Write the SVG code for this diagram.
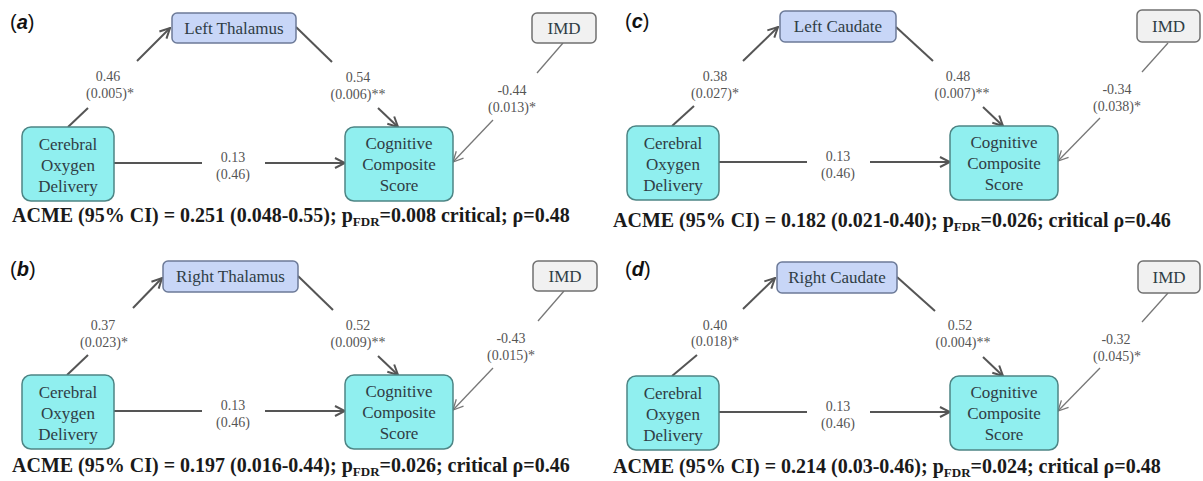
<svg xmlns="http://www.w3.org/2000/svg" width="1203" height="481" viewBox="0 0 1203 481">
<style>
.lab{font-family:"Liberation Sans",Arial,sans-serif;font-size:20px;fill:#111}
.pl{font-weight:bold;font-style:italic}
.med rect{fill:#c8d6f7;stroke:#6c7a98;stroke-width:1.5}
.var rect{fill:#90efef;stroke:#4d8585;stroke-width:1.5}
.imd rect{fill:#f1f1f1;stroke:#707070;stroke-width:1.5}
.nt{font-family:"Liberation Serif","Times New Roman",serif;font-size:17px;fill:#2f3d45;text-anchor:middle}
.el{font-family:"Liberation Serif","Times New Roman",serif;font-size:14px;fill:#555;text-anchor:middle}
.acme{font-family:"Liberation Serif","Times New Roman",serif;font-size:20px;font-weight:bold;fill:#1a1a1a}
.sub{font-size:13px}
.c{stroke:#555;stroke-width:2;fill:none}
.t{stroke:#777;stroke-width:1.3;fill:none}
.ca{marker-end:url(#ah)}
.ta{marker-end:url(#ah2)}
</style>
<defs>
<marker id="ah" markerUnits="userSpaceOnUse" viewBox="0 0 12 12" markerWidth="12" markerHeight="12" refX="11" refY="6" orient="auto"><path d="M1,1 L11,6 L1,11" fill="none" stroke="#555" stroke-width="2"/></marker>
<marker id="ah2" markerUnits="userSpaceOnUse" viewBox="0 0 12 12" markerWidth="12" markerHeight="12" refX="11" refY="6" orient="auto"><path d="M1,1 L11,6 L1,11" fill="none" stroke="#777" stroke-width="1.3"/></marker>
</defs>
<rect x="0" y="0" width="1203" height="481" fill="#fff"/>

<!-- Panel a -->
<g id="panel-a">
<text class="lab" x="10" y="29">(<tspan class="pl">a</tspan>)</text>
<g id="a-connectors">
<line class="c" x1="68" y1="127" x2="88" y2="108"/><line class="c ca" x1="137" y1="61" x2="170" y2="28"/>
<line class="c" x1="296" y1="27" x2="332" y2="62"/><line class="c ca" x1="378" y1="108" x2="398" y2="127"/>
<line class="c" x1="114" y1="163" x2="202" y2="163"/><line class="c ca" x1="265" y1="163" x2="345" y2="163"/>
<line class="t" x1="563" y1="43" x2="537" y2="73"/><line class="t ta" x1="493" y1="120" x2="453" y2="162"/>
<text class="el" x="108" y="81">0.46</text><text class="el" x="110" y="98">(0.005)*</text>
<text class="el" x="358" y="82">0.54</text><text class="el" x="358" y="99">(0.006)**</text>
<text class="el" x="233" y="162">0.13</text><text class="el" x="233" y="179">(0.46)</text>
<text class="el" x="512" y="95">-0.44</text><text class="el" x="512" y="112">(0.013)*</text>
</g>
<g id="a-mediator" class="med"><rect x="172" y="13" width="124" height="30" rx="5"/><text class="nt" x="234" y="34">Left Thalamus</text></g>
<g id="a-imd" class="imd"><rect x="532" y="13" width="64" height="30" rx="5"/><text class="nt" x="564" y="34">IMD</text></g>
<g id="a-cod" class="var"><rect x="22" y="127" width="92" height="74" rx="9"/><text class="nt"><tspan x="68" y="150">Cerebral</tspan><tspan x="68" y="171">Oxygen</tspan><tspan x="68" y="192">Delivery</tspan></text></g>
<g id="a-ccs" class="var"><rect x="345" y="127" width="108" height="74" rx="9"/><text class="nt"><tspan x="399" y="149">Cognitive</tspan><tspan x="399" y="170">Composite</tspan><tspan x="399" y="191">Score</tspan></text></g>
<text class="acme" x="12" y="222">ACME (95% CI) = 0.251 (0.048-0.55); p<tspan class="sub" dy="4">FDR</tspan><tspan dy="-4">=0.008 critical; ρ=0.48</tspan></text>
</g>

<!-- Panel c -->
<g id="panel-c" transform="translate(605,-1)">
<text class="lab" x="20" y="29">(<tspan class="pl">c</tspan>)</text>
<g id="c-connectors">
<line class="c" x1="67" y1="127" x2="89" y2="107"/><line class="c ca" x1="138" y1="62" x2="173" y2="28"/>
<line class="c" x1="291" y1="28" x2="328" y2="62"/><line class="c ca" x1="378" y1="108" x2="398" y2="127"/>
<line class="c" x1="114" y1="163" x2="202" y2="163"/><line class="c ca" x1="265" y1="163" x2="345" y2="163"/>
<line class="t" x1="563" y1="44" x2="537" y2="73"/><line class="t ta" x1="495" y1="119" x2="453" y2="162"/>
<text class="el" x="110" y="82">0.38</text><text class="el" x="110" y="99">(0.027)*</text>
<text class="el" x="353" y="82">0.48</text><text class="el" x="357" y="99">(0.007)**</text>
<text class="el" x="233" y="162">0.13</text><text class="el" x="233" y="179">(0.46)</text>
<text class="el" x="512" y="95">-0.34</text><text class="el" x="512" y="112">(0.038)*</text>
</g>
<g id="c-mediator" class="med"><rect x="175" y="12" width="116" height="31" rx="5"/><text class="nt" x="233" y="33">Left Caudate</text></g>
<g id="c-imd" class="imd"><rect x="532" y="11" width="63" height="32" rx="5"/><text class="nt" x="563.5" y="33">IMD</text></g>
<g id="c-cod" class="var"><rect x="22" y="127" width="92" height="74" rx="9"/><text class="nt"><tspan x="68" y="150">Cerebral</tspan><tspan x="68" y="171">Oxygen</tspan><tspan x="68" y="192">Delivery</tspan></text></g>
<g id="c-ccs" class="var"><rect x="345" y="127" width="108" height="74" rx="9"/><text class="nt"><tspan x="399" y="149">Cognitive</tspan><tspan x="399" y="170">Composite</tspan><tspan x="399" y="191">Score</tspan></text></g>
<text class="acme" x="8" y="228">ACME (95% CI) = 0.182 (0.021-0.40); p<tspan class="sub" dy="4">FDR</tspan><tspan dy="-4">=0.026; critical ρ=0.46</tspan></text>
</g>

<!-- Panel b -->
<g id="panel-b" transform="translate(0,248)">
<text class="lab" x="10" y="28">(<tspan class="pl">b</tspan>)</text>
<g id="b-connectors">
<line class="c" x1="67" y1="127" x2="88" y2="107"/><line class="c ca" x1="133" y1="60" x2="162" y2="30"/>
<line class="c" x1="298" y1="28" x2="333" y2="62"/><line class="c ca" x1="378" y1="108" x2="398" y2="127"/>
<line class="c" x1="114" y1="163" x2="202" y2="163"/><line class="c ca" x1="265" y1="163" x2="345" y2="163"/>
<line class="t" x1="564" y1="43" x2="538" y2="73"/><line class="t ta" x1="493" y1="120" x2="453" y2="162"/>
<text class="el" x="103" y="82">0.37</text><text class="el" x="104" y="99">(0.023)*</text>
<text class="el" x="358" y="82">0.52</text><text class="el" x="358" y="99">(0.009)**</text>
<text class="el" x="233" y="162">0.13</text><text class="el" x="233" y="179">(0.46)</text>
<text class="el" x="511" y="95">-0.43</text><text class="el" x="511" y="112">(0.015)*</text>
</g>
<g id="b-mediator" class="med"><rect x="163" y="13" width="135" height="31" rx="5"/><text class="nt" x="230.5" y="34">Right Thalamus</text></g>
<g id="b-imd" class="imd"><rect x="533" y="13" width="64" height="30" rx="5"/><text class="nt" x="565" y="34">IMD</text></g>
<g id="b-cod" class="var"><rect x="22" y="127" width="92" height="74" rx="9"/><text class="nt"><tspan x="68" y="150">Cerebral</tspan><tspan x="68" y="171">Oxygen</tspan><tspan x="68" y="192">Delivery</tspan></text></g>
<g id="b-ccs" class="var"><rect x="345" y="127" width="108" height="74" rx="9"/><text class="nt"><tspan x="399" y="149">Cognitive</tspan><tspan x="399" y="170">Composite</tspan><tspan x="399" y="191">Score</tspan></text></g>
<text class="acme" x="12" y="224">ACME (95% CI) = 0.197 (0.016-0.44); p<tspan class="sub" dy="4">FDR</tspan><tspan dy="-4">=0.026; critical ρ=0.46</tspan></text>
</g>

<!-- Panel d -->
<g id="panel-d" transform="translate(605,249)">
<text class="lab" x="20" y="27">(<tspan class="pl">d</tspan>)</text>
<g id="d-connectors">
<line class="c" x1="67" y1="127" x2="92" y2="106"/><line class="c ca" x1="138" y1="60" x2="170" y2="29"/>
<line class="c" x1="292" y1="28" x2="330" y2="62"/><line class="c ca" x1="378" y1="108" x2="398" y2="127"/>
<line class="c" x1="114" y1="163" x2="202" y2="163"/><line class="c ca" x1="265" y1="163" x2="345" y2="163"/>
<line class="t" x1="563" y1="44" x2="537" y2="73"/><line class="t ta" x1="495" y1="119" x2="453" y2="162"/>
<text class="el" x="110" y="81">0.40</text><text class="el" x="110" y="97">(0.018)*</text>
<text class="el" x="355" y="81">0.52</text><text class="el" x="358" y="98">(0.004)**</text>
<text class="el" x="233" y="162">0.13</text><text class="el" x="233" y="179">(0.46)</text>
<text class="el" x="511" y="95">-0.32</text><text class="el" x="512" y="112">(0.045)*</text>
</g>
<g id="d-mediator" class="med"><rect x="172" y="13" width="120" height="31" rx="5"/><text class="nt" x="232" y="34">Right Caudate</text></g>
<g id="d-imd" class="imd"><rect x="533" y="12" width="62" height="32" rx="5"/><text class="nt" x="564" y="34">IMD</text></g>
<g id="d-cod" class="var"><rect x="22" y="127" width="92" height="74" rx="9"/><text class="nt"><tspan x="68" y="150">Cerebral</tspan><tspan x="68" y="171">Oxygen</tspan><tspan x="68" y="192">Delivery</tspan></text></g>
<g id="d-ccs" class="var"><rect x="345" y="127" width="108" height="74" rx="9"/><text class="nt"><tspan x="399" y="149">Cognitive</tspan><tspan x="399" y="170">Composite</tspan><tspan x="399" y="191">Score</tspan></text></g>
<text class="acme" x="8" y="224">ACME (95% CI) = 0.214 (0.03-0.46); p<tspan class="sub" dy="4">FDR</tspan><tspan dy="-4">=0.024; critical ρ=0.48</tspan></text>
</g>
</svg>
